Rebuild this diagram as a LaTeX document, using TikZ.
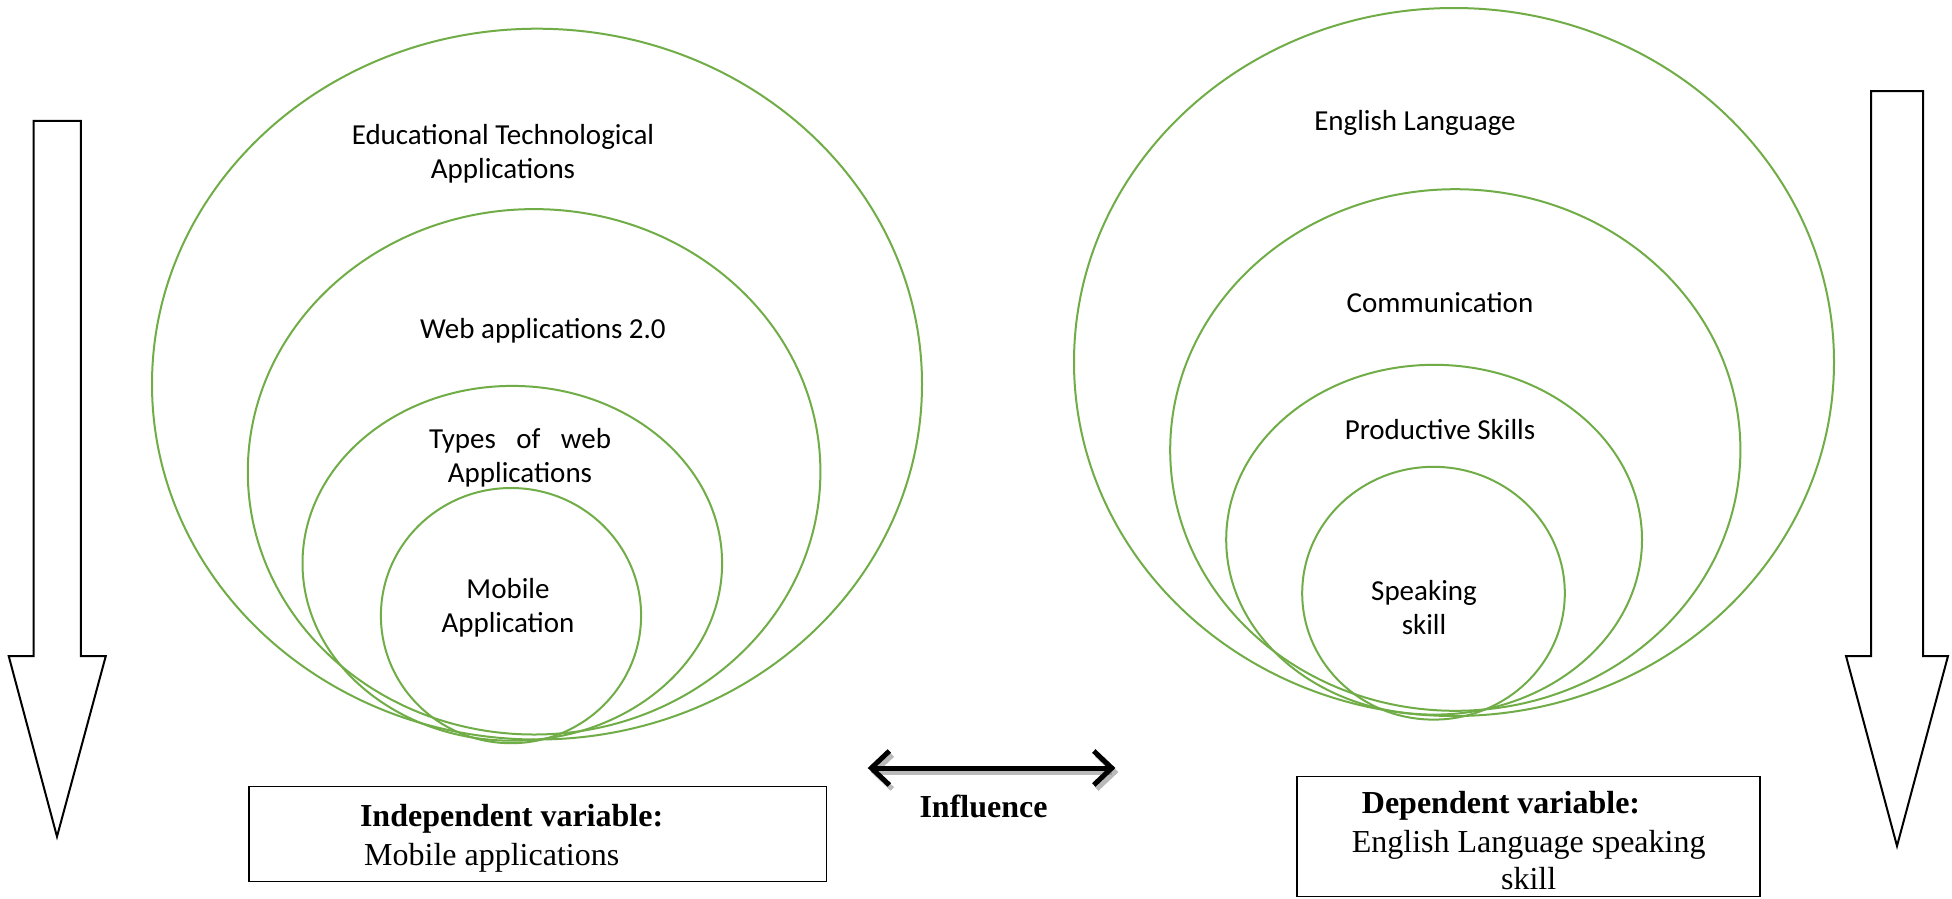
\documentclass[tikz,border=0pt]{standalone}
\usepackage{fontspec}
\setmainfont{Liberation Serif}
\newfontfamily\calib{Carlito}
\usetikzlibrary{arrows.meta}
\definecolor{ringgreen}{HTML}{70AD47}
\tikzset{
  ring/.style={draw=ringgreen, line width=2pt},
  bigarrow/.style={draw=black, line width=2pt, fill=white, line join=miter},
  lbl/.style={font=\calib\fontsize{29}{34}\selectfont, align=center, inner sep=0pt},
  vbox/.style={draw=black, line width=1.3pt, inner sep=0pt},
  tnr/.style={font=\fontsize{32}{37}\selectfont, inner sep=0pt},
  tnrb/.style={font=\bfseries\fontsize{32}{37}\selectfont, inner sep=0pt},
  infl/.style={line width=5pt, {Straight Barb[length=18pt,width=34pt]}-{Straight Barb[length=18pt,width=34pt]}}
}
\begin{document}
\begin{tikzpicture}[x=1pt,y=-1pt]
\useasboundingbox[fill=white] (0,0) rectangle (1952,898);

% left down arrow
\draw[bigarrow] (33.6,120.8) -- (80.9,120.8) -- (80.9,656) -- (105.8,656) -- (57,836.6) -- (8.7,656) -- (33.6,656) -- cycle;
% right down arrow
\draw[bigarrow] (1871,91) -- (1923,91) -- (1923,656) -- (1948,656) -- (1897,846) -- (1846,656) -- (1871,656) -- cycle;

% left rings
\draw[ring] (537,384.1) ellipse [x radius=385, y radius=355.4];
\draw[ring] (534.1,471.8) ellipse [x radius=286.3, y radius=262.7];
\draw[ring] (512.3,563.3) ellipse [x radius=209.8, y radius=177.4];
\draw[ring] (511.0,615.6) ellipse [x radius=130.1, y radius=127.6];

% right rings
\draw[ring] (1454,362) ellipse [x radius=380, y radius=354];
\draw[ring] (1455.3,450.0) ellipse [x radius=285.1, y radius=260.8];
\draw[ring] (1434.1,539.7) ellipse [x radius=207.9, y radius=174.9];
\draw[ring] (1433.5,593.2) ellipse [x radius=131.3, y radius=126.4];

% left labels
\node[lbl] (eta) at (503,154) {Educational Technological\\Applications};
\node[lbl] (web) at (543,331) {Web applications 2.0};
\node[lbl] (types) at (520,458) {\makebox[182pt][s]{Types of web}\\Applications};
\node[lbl] (mob) at (508,608) {Mobile\\Application};

% right labels
\node[lbl] (eng) at (1415,123) {English Language};
\node[lbl] (comm) at (1440,302.5) {Communication};
\node[lbl] (prod) at (1440,429.5) {Productive Skills};
\node[lbl] (speak) at (1424,608) {Speaking\\skill};

% bottom boxes
\node[vbox, minimum width=577.6pt, minimum height=94.6pt] (indbox) at (537.8,834.1) {};
\node[tnrb] (indt) at (511.6,819) {Independent variable:};
\node[tnr] (indv) at (491.7,857.7) {Mobile applications};

\node[vbox, minimum width=463pt, minimum height=119.5pt] (depbox) at (1528.5,836.55) {};
\node[tnrb] (dept) at (1501,806) {Dependent variable:};
\node[tnr, align=center] (depv) at (1528.7,859.6) {English Language speaking\\skill};

% influence arrow
\coordinate (il) at (867.7,768);
\coordinate (ir) at (1115.4,768);
\draw[infl, draw=black!45, opacity=0.6] ([shift={(3,4)}]il) -- ([shift={(3,4)}]ir);
\draw[infl] (il) -- (ir);
\node[tnrb] (infl) at (983.5,806.7) {Influence};
\end{tikzpicture}
\end{document}
